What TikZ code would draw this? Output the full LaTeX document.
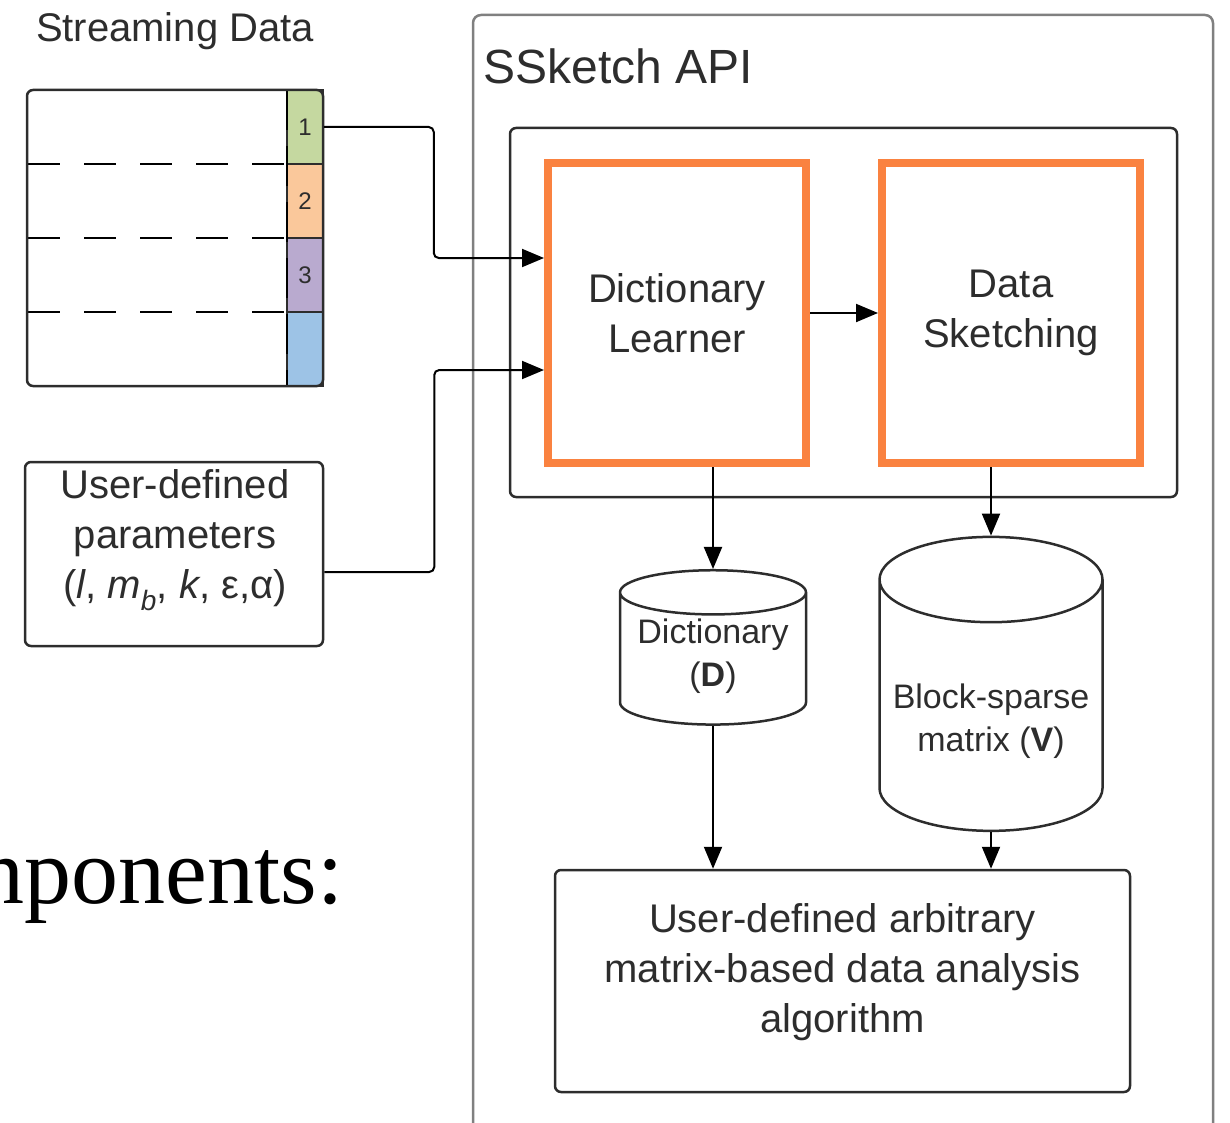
\documentclass[tikz,border=0pt]{standalone}
\usepackage{fontspec}
\setmainfont{Liberation Sans}
\newfontfamily\slideserif{Liberation Serif}
\usetikzlibrary{arrows.meta, shapes.geometric, positioning}

\definecolor{hlorange}{RGB}{250,130,64}
\definecolor{rowgreen}{RGB}{197,216,160}
\definecolor{roworange}{RGB}{250,200,155}
\definecolor{rowpurple}{RGB}{185,170,207}
\definecolor{rowblue}{RGB}{157,195,230}
\definecolor{linegray}{RGB}{45,45,45}

% text of a store, moved inside the cylinder
\newcommand{\storelabel}[2]{\raisebox{#1}[\height][\depth]{\begin{tabular}{@{}c@{}}#2\end{tabular}}}

\begin{document}
\begin{tikzpicture}[x=1pt, y=-1pt,
  font=\fontsize{40}{50}\selectfont, text=linegray,
  box/.style={draw=linegray, line width=2.5pt, rounded corners=6pt, align=center},
  cell/.style={draw=linegray, line width=1.5pt, minimum width=36pt, minimum height=74pt,
    inner sep=0pt, font=\fontsize{24}{28}\selectfont},
  learner/.style={draw=hlorange, line width=8pt, minimum width=258pt, minimum height=300pt, align=center},
  store/.style={draw=linegray, line width=2.5pt, cylinder, shape border rotate=90,
    font=\fontsize{34}{43}\selectfont},
  arr/.style={line width=2pt, -{Triangle[length=22pt, width=18pt]}},
  wire/.style={line width=2pt, rounded corners=5pt},
]
\useasboundingbox (0,0) rectangle (1230,1123);

% streaming data
\node (streamtitle) at (175,31) {Streaming Data};
\node[cell, fill=rowgreen] (row1) at (305,127) {1};
\node[cell, fill=roworange] (row2) at (305,201) {2};
\node[cell, fill=rowpurple] (row3) at (305,275) {3};
\node[cell, fill=rowblue] (row4) at (305,349) {};
\foreach \y in {164,238,312}
  \draw[line width=2pt, dash pattern=on 32pt off 24pt] (28,\y) -- (287,\y);
\draw[line width=2.5pt, dash pattern=on 40pt off 16pt] (287,90) -- (287,386);
\node[box, minimum width=296pt, minimum height=296pt] (stream) at (175,238) {};

% parameters
\node[box, minimum width=298pt, minimum height=184pt] (params) at (174,554) {};
\node[align=center] (paramtext) at (175,540) {User-defined\\parameters\\(\textit{l}, \textit{m}\textsubscript{\textit{b}}, \textit{k}, ε,α)};

% ssketch api
\draw[draw=gray, line width=2.5pt, rounded corners=8pt] (473,1130) -- (473,15) -- (1213,15) -- (1213,1130);
\node[anchor=west, font=\fontsize{48}{56}\selectfont] (apititle) at (480,66) {SSketch API};
\node[box, minimum width=667pt, minimum height=369pt] (core) at (843.5,312.5) {};
\node[learner] (dl) at (677,313) {Dictionary\\Learner};
\node[learner] (ds) at (1011,313) {Data\\Sketching};

\node[store, aspect=0.28, minimum width=186pt, minimum height=128pt] (dict) at (713,662)
  {\storelabel{6pt}{Dictionary\\(\textbf{D})}};
\node[store, aspect=0.42, minimum width=223pt, minimum height=294pt] (block) at (991,711)
  {\storelabel{-10pt}{Block-sparse\\matrix (\textbf{V})}};
\node[box, minimum width=575pt, minimum height=222pt] (algo) at (842.5,981) {};
\node[align=center] (algotext) at (842.5,972) {User-defined arbitrary\\matrix-based data analysis\\algorithm};

\node[anchor=base east, font=\slideserif\fontsize{94}{100}\selectfont, text=black] (slidetext) at (347,903) {nponents:};

% connectors
\draw[wire, arr] (row1.east) -- ++(110,0) |- ([yshift=55pt]dl.west);
\draw[wire, arr] ([yshift=-18pt]params.east) -- ++(110,0) |- ([yshift=-57pt]dl.west);
\draw[arr] (dl.east) -- (ds.west);
\draw[arr] (dict.north |- dl.south) -- (dict.north);
\draw[arr] (block.north |- ds.south) -- (block.north);
\draw[arr] (dict.south) -- (dict.south |- algo.north);
\draw[arr] (block.south) -- (block.south |- algo.north);
\end{tikzpicture}
\end{document}
